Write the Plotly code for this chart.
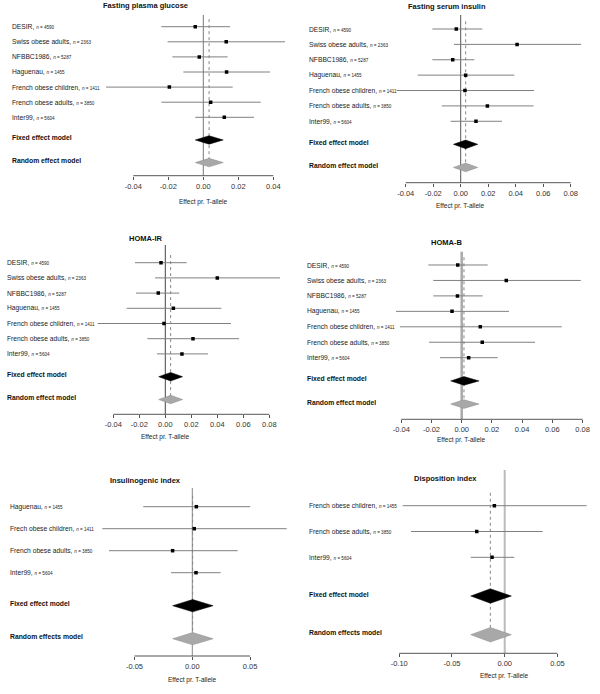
import plotly.graph_objects as go

W, H = 600, 694
FONT = "Arial, Liberation Sans, sans-serif"

# study labels shared by the four 7-study panels
studies = ["DESIR", "Swiss obese adults", "NFBBC1986", "Haguenau",
           "French obese children", "French obese adults", "Inter99"]
study_n = [4590, 2363, 5287, 1455, 1411, 3850, 5604]

# Fasting plasma glucose
glucose_est = [-0.0046, 0.0131, -0.0023, 0.0133, -0.0194, 0.0042, 0.0120]
glucose_lo = [-0.0240, -0.0204, -0.0177, -0.0114, -0.0556, -0.0240, -0.0046]
glucose_hi = [0.0153, 0.0467, 0.0139, 0.0381, 0.0168, 0.0328, 0.0290]
glucose_fixed = [0.0033, -0.0046, 0.0114]
glucose_random = [0.0033, -0.0046, 0.0114]
glucose_ticks = [-0.04, -0.02, 0.0, 0.02, 0.04]

# Fasting serum insulin
insulin_est = [-0.0032, 0.0410, -0.0058, 0.0036, 0.0031, 0.0194, 0.0111]
insulin_lo = [-0.0206, -0.0049, -0.0206, -0.0313, -0.0466, -0.0138, -0.0073]
insulin_hi = [0.0157, 0.0875, 0.0099, 0.0390, 0.0533, 0.0530, 0.0300]
insulin_fixed = [0.0036, -0.0053, 0.0124]
insulin_random = [0.0036, -0.0053, 0.0124]
wide_ticks = [-0.04, -0.02, 0.0, 0.02, 0.04, 0.06, 0.08]

# HOMA-IR
homair_est = [-0.0033, 0.0400, -0.0054, 0.0062, -0.0010, 0.0213, 0.0128]
homair_lo = [-0.0233, -0.0079, -0.0225, -0.0297, -0.0520, -0.0138, -0.0064]
homair_hi = [0.0164, 0.0882, 0.0108, 0.0431, 0.0505, 0.0567, 0.0328]
homair_fixed = [0.0041, -0.0051, 0.0133]
homair_random = [0.0041, -0.0051, 0.0133]

# HOMA-B
homab_est = [-0.0026, 0.0295, -0.0028, -0.0064, 0.0123, 0.0136, 0.0046]
homab_lo = [-0.0221, -0.0188, -0.0188, -0.0435, -0.0408, -0.0216, -0.0144]
homab_hi = [0.0172, 0.0788, 0.0139, 0.0313, 0.0662, 0.0485, 0.0238]
homab_fixed = [0.0015, -0.0073, 0.0115]
homab_random = [0.0015, -0.0073, 0.0115]

# Insulinogenic index
insgen_studies = ["Haguenau", "Frech obese children", "French obese adults", "Inter99"]
insgen_n = [1455, 1411, 3850, 5604]
insgen_est = [0.0035, 0.0017, -0.0170, 0.0032]
insgen_lo = [-0.0424, -0.0778, -0.0720, -0.0184]
insgen_hi = [0.0500, 0.0816, 0.0392, 0.0245]
insgen_fixed = [0.0003, -0.0170, 0.0180]
insgen_random = [0.0003, -0.0170, 0.0180]
insgen_ticks = [-0.05, 0.0, 0.05]

# Disposition index
dispo_studies = ["French obese children", "French obese adults", "Inter99"]
dispo_n = [1455, 3850, 5604]
dispo_est = [-0.0098, -0.0265, -0.0120]
dispo_lo = [-0.0967, -0.0888, -0.0322]
dispo_hi = [0.0777, 0.0360, 0.0091]
dispo_fixed = [-0.0136, -0.0322, 0.0063]
dispo_random = [-0.0136, -0.0322, 0.0063]
dispo_ticks = [-0.10, -0.05, 0.0, 0.05]

fig = go.Figure()
layout = {}
shapes = []
annotations = []


def add_panel(k, title, names, ns, est, lo, hi, fixed, rand, ticks, g,
              rand_label, zero_col="#777", zero_w=1):
    xa = "x" if k == 1 else "x%d" % k
    ya = "y" if k == 1 else "y%d" % k
    n = len(names)
    rows = list(range(n))
    fixed_row = n + 0.5
    rand_row = n + 2

    layout["xaxis" if k == 1 else "xaxis%d" % k] = dict(
        domain=[g["x0"] / W, g["x1"] / W],
        range=[(g["x0"] - g["zero"]) / g["scale"], (g["x1"] - g["zero"]) / g["scale"]],
        anchor=ya, tickvals=ticks, ticktext=["%.2f" % t for t in ticks],
        ticks="outside", ticklen=3, tickcolor="#555", tickwidth=1,
        showline=False, showgrid=False, zeroline=False, automargin=False,
        tickfont=dict(size=7.5, color="#333", family=FONT))
    layout["yaxis" if k == 1 else "yaxis%d" % k] = dict(
        domain=[1 - g["axis"] / H, 1 - g["top"] / H],
        range=[(g["axis"] - g["row0"]) / g["step"], (g["top"] - g["row0"]) / g["step"]],
        anchor=xa, visible=False, automargin=False)

    # reference lines
    shapes.append(dict(type="line", xref=xa, yref=ya + " domain", x0=0, x1=0, y0=0, y1=1,
                       line=dict(color=zero_col, width=zero_w), layer="below"))
    shapes.append(dict(type="line", xref=xa, yref=ya, x0=rand[0], x1=rand[0],
                       y0=-0.5, y1=rand_row, line=dict(color="#888", width=1, dash="dot"),
                       layer="below"))
    shapes.append(dict(type="line", xref=xa, yref=ya + " domain", x0=ticks[0], x1=ticks[-1],
                       y0=0, y1=0, line=dict(color="#555", width=1)))

    # confidence intervals
    cx, cy = [], []
    for r, a, b in zip(rows, lo, hi):
        cx += [a, b, None]
        cy += [r, r, None]
    fig.add_trace(go.Scatter(x=cx, y=cy, mode="lines", xaxis=xa, yaxis=ya,
                             line=dict(color="#808080", width=1), hoverinfo="skip"))
    fig.add_trace(go.Scatter(x=est, y=rows, mode="markers", xaxis=xa, yaxis=ya,
                             marker=dict(symbol="square", size=3.5, color="black")))

    # summary diamonds
    for vals, row, fill, edge in [(fixed, fixed_row, "black", "black"),
                                  (rand, rand_row, "#a8a8a8", "#8c8c8c")]:
        fig.add_trace(go.Scatter(
            x=[vals[1], vals[0], vals[2], vals[0], vals[1]],
            y=[row, row - 0.28, row, row + 0.28, row],
            mode="lines", fill="toself", fillcolor=fill, xaxis=xa, yaxis=ya,
            line=dict(color=edge, width=0.5)))

    # texts
    annotations.append(dict(text="<b>%s</b>" % title, xref="paper", yref="paper",
                            x=g["title_x"] / W, y=1 - g["title_y"] / H,
                            xanchor="center", yanchor="middle", showarrow=False,
                            font=dict(size=7.5, color="#111")))
    for r, name, nn in zip(rows, names, ns):
        annotations.append(dict(
            text="%s, <span style='font-size:4.6px'><i>n</i> = %d</span>" % (name, nn),
            xref="paper", yref=ya, x=g["label_x"] / W, y=r, xanchor="left",
            yanchor="middle", showarrow=False, font=dict(size=6.7, color="#222")))
    for lab, row in [("Fixed effect model", fixed_row), (rand_label, rand_row)]:
        annotations.append(dict(text="<b>%s</b>" % lab, xref="paper", yref=ya,
                                x=g["label_x"] / W, y=row, yshift=2, xanchor="left",
                                yanchor="middle", showarrow=False,
                                font=dict(size=6.8, color="#111")))
    annotations.append(dict(text="Effect pr. T-allele", xref=xa, yref="paper", x=0,
                            y=1 - g["xlab_y"] / H, xanchor="center", yanchor="middle",
                            showarrow=False, font=dict(size=6.5, color="#222")))


add_panel(1, "Fasting plasma glucose", studies, study_n, glucose_est, glucose_lo,
          glucose_hi, glucose_fixed, glucose_random, glucose_ticks,
          dict(x0=0, x1=300, zero=203.3, scale=1750, row0=26.7, step=15.1, axis=175.7,
               top=15, title_x=145.7, title_y=5, xlab_y=201.7, label_x=10),
          "Random effect model", "#777", 1)
add_panel(2, "Fasting serum insulin", studies, study_n, insulin_est, insulin_lo,
          insulin_hi, insulin_fixed, insulin_random, wide_ticks,
          dict(x0=300, x1=600, zero=460.7, scale=1375, row0=29, step=15.38, axis=182.7,
               top=15, title_x=446.7, title_y=6, xlab_y=205.7, label_x=307),
          "Random effect model", "#555", 1)
add_panel(3, "HOMA-IR", studies, study_n, homair_est, homair_lo, homair_hi,
          homair_fixed, homair_random, wide_ticks,
          dict(x0=0, x1=300, zero=165.3, scale=1300, row0=262.7, step=15.2, axis=414.3,
               top=245, title_x=145.7, title_y=238.3, xlab_y=436.7, label_x=5),
          "Random effect model", "#444", 1)
add_panel(4, "HOMA-B", studies, study_n, homab_est, homab_lo, homab_hi,
          homab_fixed, homab_random, wide_ticks,
          dict(x0=300, x1=600, zero=461.7, scale=1511, row0=265, step=15.45, axis=419.3,
               top=251.7, title_x=446.7, title_y=242.3, xlab_y=440, label_x=305),
          "Random effect model", "#aaa", 2.5)
add_panel(5, "Insulinogenic index", insgen_studies, insgen_n, insgen_est, insgen_lo,
          insgen_hi, insgen_fixed, insgen_random, insgen_ticks,
          dict(x0=0, x1=300, zero=192.3, scale=1157, row0=506.7, step=22, axis=656,
               top=488, title_x=145.7, title_y=480, xlab_y=680, label_x=8),
          "Random effects model", "#888", 1)
add_panel(6, "Disposition index", dispo_studies, dispo_n, dispo_est, dispo_lo,
          dispo_hi, dispo_fixed, dispo_random, dispo_ticks,
          dict(x0=300, x1=600, zero=504.7, scale=1055, row0=505.7, step=25.8, axis=653.3,
               top=470, title_x=445.7, title_y=478.3, xlab_y=676, label_x=307),
          "Random effects model", "#bbb", 2)

fig.update_layout(**layout)
fig.update_layout(width=W, height=H, margin=dict(l=0, r=0, t=0, b=0),
                  paper_bgcolor="white", plot_bgcolor="white", showlegend=False,
                  font=dict(family=FONT), shapes=shapes, annotations=annotations)

# drop the browser's default body margin so the figure sits at the page origin
fig.write_html("out.html", config={"displayModeBar": False},
               post_script="document.body.style.margin='0';")
